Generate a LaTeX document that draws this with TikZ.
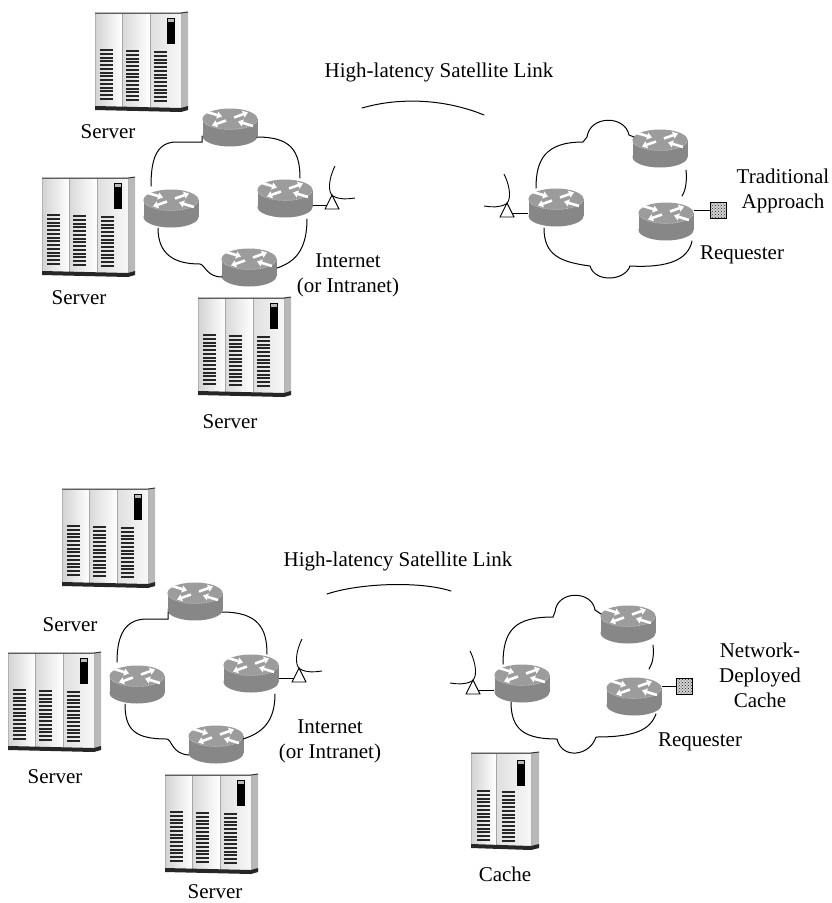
\documentclass[tikz,border=0pt]{standalone}
\usepackage{fontspec}
\setmainfont{Liberation Serif}
\usetikzlibrary{arrows.meta,patterns}

\definecolor{rside}{gray}{0.53}
\definecolor{rtop}{gray}{0.61}
\definecolor{rrim}{gray}{0.78}

% vent grille of one cabinet door: x, top y
\newcommand\ventcol[2]{%
  \foreach \k in {0,...,13}{\fill[black!85] (#1,{#2+3.75*\k}) rectangle ++(12.5,2);}}

\tikzset{
  lbl/.style={font=\fontsize{21}{25}\selectfont, inner sep=0pt, align=center},
  wire/.style={black, line width=1pt},
  cloudline/.style={black, line width=1pt, line cap=round},
  routerbox/.style={minimum width=55pt, minimum height=38pt, inner sep=0pt},
  reqbox/.style={minimum size=16pt, inner sep=0pt, draw=black, line width=0.8pt,
                 preaction={fill=gray!35}, pattern=crosshatch dots, pattern color=black!85},
  % router: grey cylinder with four arrows on its top
  router/.pic={
    \fill[rside] (0,9) ellipse[x radius=27.5, y radius=10.5];
    \fill[rside] (-27.5,-8) rectangle (27.5,9);
    \fill[rtop] (0,-8) ellipse[x radius=27.5, y radius=10.5];
    \draw[rrim, line width=0.7pt, densely dotted] (-27.5,-8) arc[start angle=180, end angle=0, x radius=27.5, y radius=10.5];
    \begin{scope}[white, line width=2.6pt, -{Triangle[length=5pt,width=7pt]}]
      \draw (4,-9.5) -- (18,-14.5);
      \draw (-4,-6.5) -- (-18,-1.5);
      \draw (-23,-15) -- (-8,-10.5);
      \draw (23,-1) -- (8,-5.5);
    \end{scope}
  },
  % three-door server cabinet, origin at its top left corner
  server/.pic={
    \fill[gray!55] (86,1) -- (93,0) -- (93,95) -- (86,97) -- cycle;
    \shade[left color=gray!35, right color=white] (0,1) rectangle (27,96);
    \shade[left color=gray!30, right color=white] (27,1) rectangle (55,96);
    \shade[left color=gray!25, right color=gray!6] (55,1) rectangle (86,96);
    \draw[gray!70, line width=0.6pt] (27,1) -- (27,96) (55,1) -- (55,96);
    \ventcol{5}{37}\ventcol{31}{38}\ventcol{59}{39}
    \fill[black] (72,6) rectangle (80,32);
    \fill[gray!55] (73,7) rectangle (79,10);
    \draw[gray!60, line width=0.5pt] (0,1) rectangle (86,96);
    \draw[black!80, line width=1pt] (0,1) -- (86,1) -- (93,0);
    \fill[black!85] (0,94) -- (86,96) -- (93,94) -- (93,98) -- (86,100) -- (0,98) -- cycle;
  },
  % two-door cabinet used as the cache
  cachesrv/.pic={
    \fill[gray!55] (60,1) -- (68,0) -- (68,93) -- (60,95) -- cycle;
    \shade[left color=gray!35, right color=white] (0,1) rectangle (25,94);
    \shade[left color=gray!25, right color=gray!6] (25,1) rectangle (60,94);
    \draw[gray!70, line width=0.6pt] (25,1) -- (25,94);
    \ventcol{6}{38}\ventcol{31}{39}
    \fill[black] (46,8) rectangle (54,34);
    \fill[gray!55] (47,9) rectangle (53,12);
    \draw[gray!60, line width=0.5pt] (0,1) rectangle (60,94);
    \draw[black!80, line width=1pt] (0,1) -- (60,1) -- (68,0);
    \fill[black!85] (0,92) -- (60,94) -- (68,92) -- (68,96) -- (60,98) -- (0,96) -- cycle;
  },
  % satellite dish on a small mast, origin at the mast apex
  dish/.pic={
    \draw[black, line width=0.9pt, fill=white] (0,0) -- (-7,14) -- (7,14) -- cycle;
    \draw[black, line width=0.9pt] (3,-29) .. controls (-4,-15) and (-4,-2) .. (1,1)
          .. controls (8,5) and (16,4) .. (23,3);
    \coordinate (-feed) at (-5,10);
  },
}

\begin{document}
\begin{tikzpicture}[x=1pt, y=-1pt]
\useasboundingbox (0,0) rectangle (832,903);
\fill[white] (0,0) rectangle (832,903);

% ================= upper panel: traditional approach =================
\pic at (95,12) {server};
\pic at (42,177) {server};
\pic at (198,297) {server};
\node[lbl] (s1) at (108,132) {Server};
\node[lbl] (s2) at (79,298) {Server};
\node[lbl] (s3) at (230,422) {Server};

% routers of the Internet cloud
\path (230,127) pic {router} node[routerbox] (ta) {};
\path (171,208) pic {router} node[routerbox] (tb) {};
\path (285,198) pic {router} node[routerbox] (tc) {};
\path (249,267) pic {router} node[routerbox] (td) {};
% cloud outline between the routers
\draw[cloudline] (202,136) -- (202,142) -- (175,142) .. controls (156,143) and (151,160) .. (151,186);
\draw[cloudline] (158,228) .. controls (158,255) and (175,264) .. (200,264)
      .. controls (205,265) and (207,277) .. (222,277);
\draw[cloudline] (277,268) .. controls (295,262) and (307,250) .. (307,219);
\draw[cloudline] (300,178) .. controls (300,150) and (290,137) .. (257,137);

\pic (ua) at (332,195) {dish};
\draw[wire] (tc.east |- ua-feed) -- (ua-feed);

\node[lbl] (inet1) at (348,275) {Internet\\(or Intranet)};
\node[lbl] (sat1) at (439,72) {High-latency Satellite Link};
\draw[cloudline] (362,108) .. controls (400,97) and (445,99) .. (484,115);

% remote network
\path (556,207) pic {router} node[routerbox] (tr1) {};
\path (660,148) pic {router} node[routerbox] (tr2) {};
\path (666,221) pic {router} node[routerbox] (tr3) {};
\draw[cloudline] (536,188) .. controls (536,160) and (545,142) .. (583,142) -- (587,137)
      .. controls (590,115) and (625,115) .. (629,135) -- (634,137);
\draw[cloudline] (686,170) .. controls (687,180) and (686,190) .. (682,196);
\draw[cloudline] (692,241) .. controls (688,260) and (668,268) .. (630,266)
      .. controls (625,281) and (595,283) .. (590,266)
      .. controls (560,262) and (544,255) .. (544,228);

\pic[xscale=-1] (ub) at (507,203) {dish};
\draw[wire] (ub-feed) -- (ub-feed -| tr1.west);

\node[reqbox] (req1) at (718,210) {};
\draw[wire] (tr3.east |- req1) -- (req1.west);
\node[lbl] (trad) at (783,191) {Traditional\\Approach};
\node[lbl] (rq1) at (742,255) {Requester};

% ================= lower panel: network-deployed cache =================
\pic at (62,488) {server};
\pic at (8,652) {server};
\pic at (165,774) {server};
\node[lbl] (s4) at (70,625) {Server};
\node[lbl] (s5) at (55,777) {Server};
\node[lbl] (s6) at (215,892) {Server};

\path (195,601) pic {router} node[routerbox] (ba) {};
\path (137,684) pic {router} node[routerbox] (bb) {};
\path (251,673) pic {router} node[routerbox] (bc) {};
\path (216,744) pic {router} node[routerbox] (bd) {};
\draw[cloudline] (168,612) -- (168,619) -- (145,619) .. controls (125,620) and (117,635) .. (117,662);
\draw[cloudline] (125,704) .. controls (125,730) and (135,739) .. (167,739)
      .. controls (172,740) and (172,754) .. (189,755);
\draw[cloudline] (243,739) .. controls (262,733) and (275,722) .. (275,694);
\draw[cloudline] (267,654) .. controls (267,628) and (258,612) .. (222,612);

\pic (la) at (299,668) {dish};
\draw[wire] (bc.east |- la-feed) -- (la-feed);

\node[lbl] (inet2) at (330,741) {Internet\\(or Intranet)};
\node[lbl] (sat2) at (398,561) {High-latency Satellite Link};
\draw[cloudline] (327,594) .. controls (360,583) and (420,581) .. (451,591);

\path (522,683) pic {router} node[routerbox] (br1) {};
\path (628,624) pic {router} node[routerbox] (br2) {};
\path (634,696) pic {router} node[routerbox] (br3) {};
\draw[cloudline] (503,664) .. controls (503,630) and (515,617) .. (553,617) -- (555,612)
      .. controls (557,590) and (592,590) .. (595,610) -- (601,614);
\draw[cloudline] (653,645) .. controls (654,655) and (653,663) .. (649,669);
\draw[cloudline] (656,714) .. controls (650,730) and (635,737) .. (596,737)
      .. controls (590,756) and (562,760) .. (557,739)
      .. controls (525,739) and (511,730) .. (511,702);

\pic[xscale=-1] (lb) at (473,680) {dish};
\draw[wire] (lb-feed) -- (lb-feed -| br1.west);

\node[reqbox] (req2) at (684,686) {};
\draw[wire] (br3.east |- req2) -- (req2.west);
\node[lbl] (ndc) at (760,675) {Network-\\Deployed\\Cache};
\node[lbl] (rq2) at (700,742) {Requester};

\pic at (471,752) {cachesrv};
\node[lbl] (cachelbl) at (505,874) {Cache};
\end{tikzpicture}
\end{document}
